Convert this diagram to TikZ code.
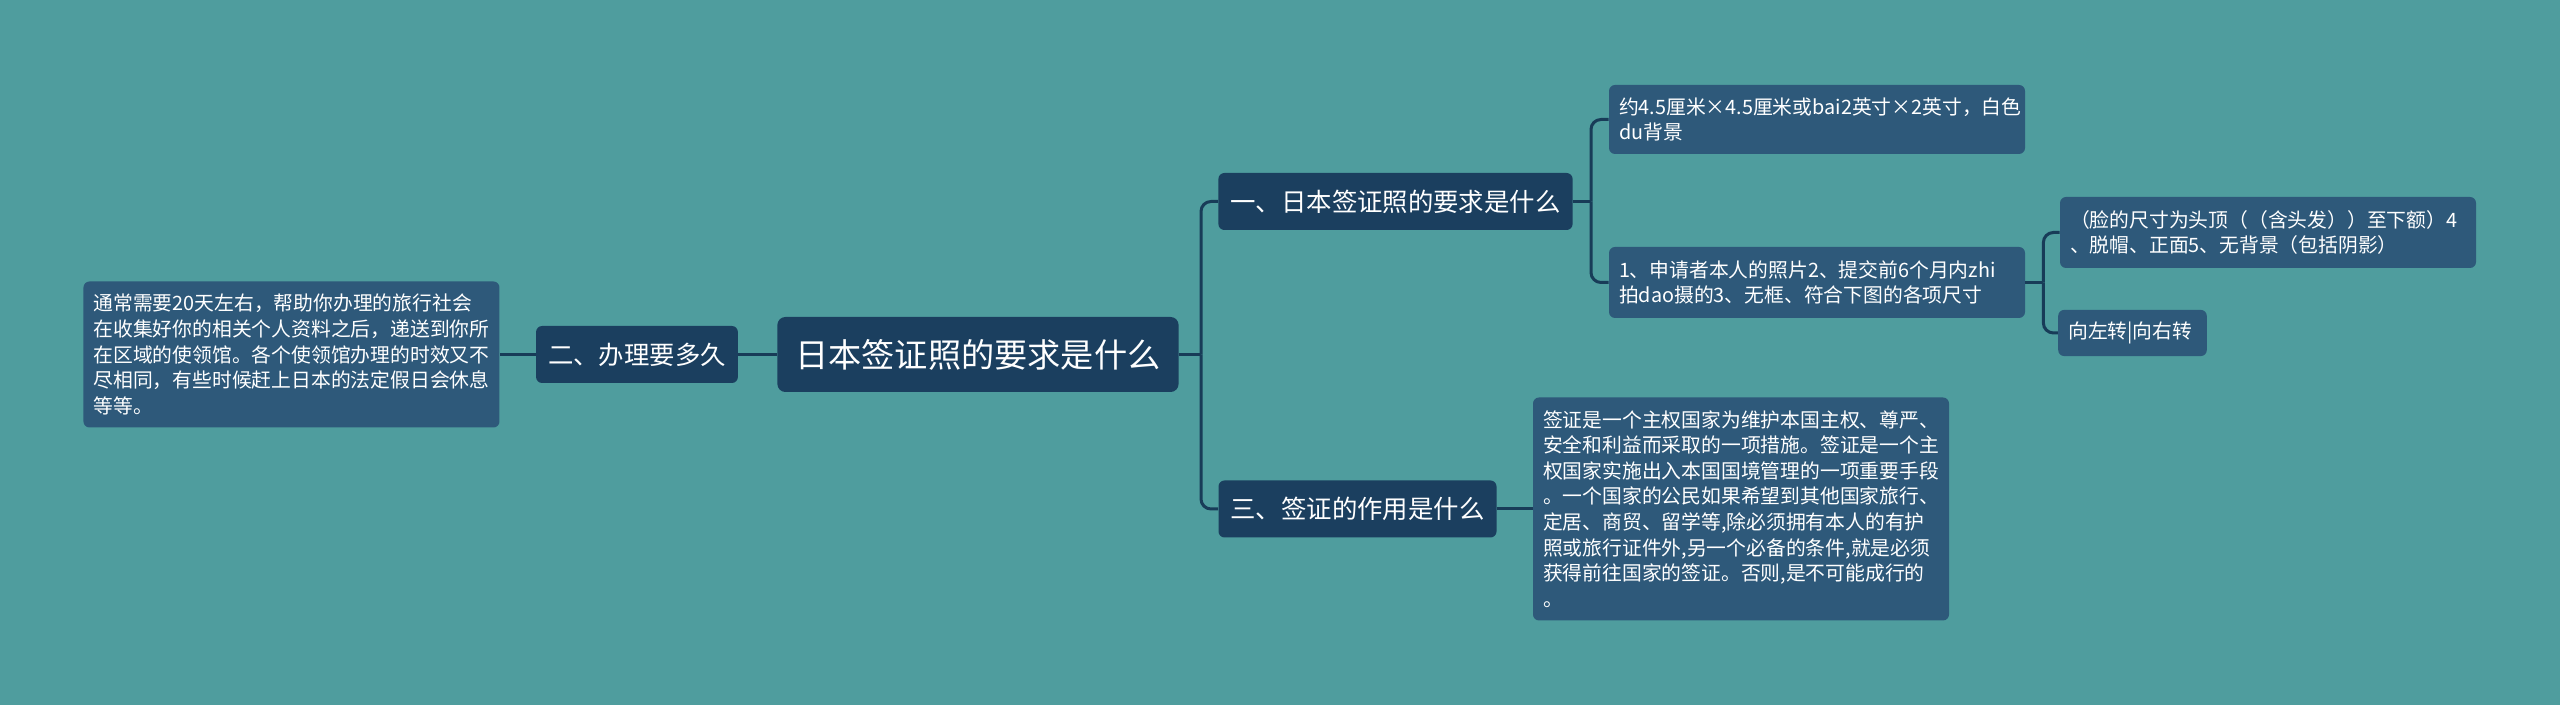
\documentclass[tikz,border=0pt]{standalone}
\usepackage{fontspec}
\setmainfont{Noto Sans CJK SC}
\usepackage{xcolor}
\usepackage{tikz}
\usetikzlibrary{positioning}
\definecolor{mapteal}{RGB}{79,157,158}
\definecolor{mapnavy}{RGB}{27,63,95}
\definecolor{mapleaf}{RGB}{46,89,122}
\definecolor{mapline}{RGB}{24,60,88}

\begin{document}
\begin{tikzpicture}[on grid ,text=white ,root/.style ={rectangle ,rounded corners=4pt ,fill=mapnavy ,inner xsep=9pt ,minimum height=37.5pt ,font=\fontsize{16.6pt}{20pt}\selectfont}, topic/.style ={rectangle ,rounded corners=3pt ,fill=mapnavy ,inner xsep=6pt ,minimum height=28.5pt ,font=\fontsize{12.7pt}{15pt}\selectfont}, leaf/.style ={rectangle ,rounded corners=3pt ,fill=mapleaf ,inner xsep=5pt ,inner ysep=6pt ,align=left ,font=\fontsize{9.9pt}{12.8pt}\selectfont}, link/.style ={draw=mapline ,line width=1.5pt ,rounded corners=5pt}]
\fill[mapteal] (-489pt,-175.25pt) rectangle (791pt,177.25pt);
\useasboundingbox (-489pt,-175.25pt) rectangle (791pt,177.25pt);
\node[root] (root) { 日本签证照的要求是什么 };
\node[topic] (howlong) [left = 170.5pt of root] { 二、办理要多久 };
\node[leaf ,text width=198pt ,minimum height=73pt] (howlongtxt) [left = 172.75pt of howlong] { 通常需要20天左右，帮助你办理的旅行社会\\在收集好你的相关个人资料之后，递送到你所\\在区域的使领馆。各个使领馆办理的时效又不\\尽相同，有些时候赶上日本的法定假日会休息\\等等。 };
\node[topic] (photoreq) [above right = 76.5pt and 208.75pt of root] { 一、日本签证照的要求是什么 };
\node[topic] (visause) [below right = 77.25pt and 189.75pt of root] { 三、签证的作用是什么 };
\node[leaf ,text width=198pt ,minimum height=34.5pt] (size) [above right = 41pt and 210.75pt of photoreq] { 约4.5厘米×4.5厘米或bai2英寸×2英寸，白色\\du背景 };
\node[leaf ,text width=198pt ,minimum height=35.5pt] (photo) [below right = 40.5pt and 210.75pt of photoreq] { 1、申请者本人的照片2、提交前6个月内zhi\\拍dao摄的3、无框、符合下图的各项尺寸 };
\node[leaf ,text width=198pt ,minimum height=35.5pt] (face) [above right = 25pt and 225.5pt of photo] { （脸的尺寸为头顶（（含头发））至下额）4\\、脱帽、正面5、无背景（包括阴影） };
\node[leaf ,minimum height=22pt] (turn) [below right = 25.25pt and 157.75pt of photo] { 向左转|向右转 };
\node[leaf ,text width=198pt ,minimum height=111.5pt] (visatxt) [right = 191.75pt of visause] { 签证是一个主权国家为维护本国主权、尊严、\\安全和利益而采取的一项措施。签证是一个主\\权国家实施出入本国国境管理的一项重要手段\\。一个国家的公民如果希望到其他国家旅行、\\定居、商贸、留学等,除必须拥有本人的有护\\照或旅行证件外,另一个必备的条件,就是必须\\获得前往国家的签证。否则,是不可能成行的\\。 };
\coordinate[right = 11pt of root.east] (jroot);
\coordinate[right = 9pt of photoreq.east] (jphotoreq);
\coordinate[right = 9pt of photo.east] (jphoto);
\path[link] (howlongtxt) -- (howlong);
\path[link] (howlong) -- (root);
\path[link] (root.east) -- (jroot);
\path[link] (jroot) |- (photoreq.west);
\path[link] (jroot) |- (visause.west);
\path[link] (visause) -- (visatxt);
\path[link] (photoreq.east) -- (jphotoreq);
\path[link] (jphotoreq) |- (size.west);
\path[link] (jphotoreq) |- (photo.west);
\path[link] (photo.east) -- (jphoto);
\path[link] (jphoto) |- (face.west);
\path[link] (jphoto) |- (turn.west);
\end{tikzpicture}
\end{document}
